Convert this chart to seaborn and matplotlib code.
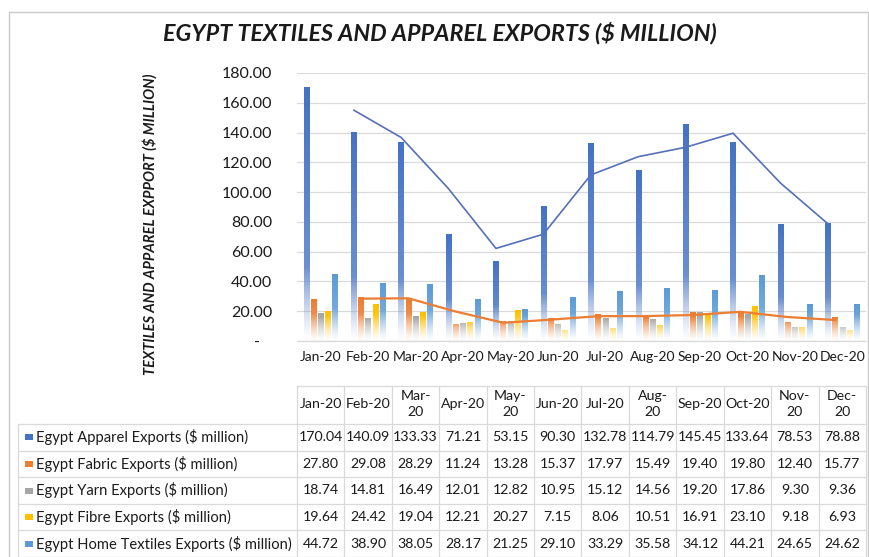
import numpy as np
import pandas as pd
import matplotlib
matplotlib.use("Agg")
import matplotlib.pyplot as plt
import seaborn as sns
from matplotlib.lines import Line2D
from matplotlib.patches import Rectangle
import matplotlib.transforms as mtransforms
from matplotlib.colors import to_rgb

# ---------------- data ----------------
months = ['Jan-20', 'Feb-20', 'Mar-20', 'Apr-20', 'May-20', 'Jun-20',
          'Jul-20', 'Aug-20', 'Sep-20', 'Oct-20', 'Nov-20', 'Dec-20']
header_labels = ['Jan-20', 'Feb-20', 'Mar-\n20', 'Apr-20', 'May-\n20', 'Jun-20',
                 'Jul-20', 'Aug-\n20', 'Sep-20', 'Oct-20', 'Nov-\n20', 'Dec-\n20']
series_names = ['Egypt Apparel Exports ($ million)',
                'Egypt Fabric Exports ($ million)',
                'Egypt Yarn Exports ($ million)',
                'Egypt Fibre Exports ($ million)',
                'Egypt Home Textiles Exports ($ million)']
apparel = [170.04, 140.09, 133.33, 71.21, 53.15, 90.30, 132.78, 114.79, 145.45, 133.64, 78.53, 78.88]
fabric = [27.80, 29.08, 28.29, 11.24, 13.28, 15.37, 17.97, 15.49, 19.40, 19.80, 12.40, 15.77]
yarn = [18.74, 14.81, 16.49, 12.01, 12.82, 10.95, 15.12, 14.56, 19.20, 17.86, 9.30, 9.36]
fibre = [19.64, 24.42, 19.04, 12.21, 20.27, 7.15, 8.06, 10.51, 16.91, 23.10, 9.18, 6.93]
home = [44.72, 38.90, 38.05, 28.17, 21.25, 29.10, 33.29, 35.58, 34.12, 44.21, 24.65, 24.62]
# trend lines (2-period moving average, drawn from Feb-20)
apparel_trend = [155.07, 136.71, 102.27, 62.18, 71.73, 111.54, 123.79, 130.12, 139.55, 106.09, 78.71]
fabric_trend = [28.44, 28.69, 19.77, 12.26, 14.33, 16.67, 16.73, 17.45, 19.60, 16.10, 14.09]
ytick_values = [0, 20, 40, 60, 80, 100, 120, 140, 160, 180]
ytick_labels = ['-   ', '20.00', '40.00', '60.00', '80.00', '100.00',
                '120.00', '140.00', '160.00', '180.00']
title = 'EGYPT TEXTILES AND APPAREL EXPORTS ($ MILLION)'
ylabel = 'TEXTILES AND APPAREL EXPPORT ($ MILLION)'
colors = ['#4472C4', '#ED7D31', '#A5A5A5', '#FFC000', '#5B9BD5']

all_series = [apparel, fabric, yarn, fibre, home]

# ---------------- style ----------------
sns.set_theme(style='white')
plt.rcParams['font.family'] = ['Lato', 'DejaVu Sans']
TXT = '#1a1a1a'
GRID = '#D9D9D9'

W, H = 870, 557
def fx(px):
    return px / W
def fy(py):
    return 1 - py / H

fig = plt.figure(figsize=(W / 100, H / 100), dpi=100)
ax = fig.add_axes([fx(297), fy(341), (866 - 297) / W, (341 - 73) / H])

rows = []
for name, vals in zip(series_names, all_series):
    for m, v in zip(months, vals):
        rows.append({'month': m, 'series': name, 'value': v})
df = pd.DataFrame(rows)

sns.barplot(data=df, x='month', y='value', hue='series', order=months,
            hue_order=series_names, palette=colors, width=0.76, gap=0.25,
            saturation=1, errorbar=None, legend=False, ax=ax)

# gradient fill for bars
centers = {k: [] for k in range(5)}
for p in list(ax.patches):
    x, w, h = p.get_x(), p.get_width(), p.get_height()
    c = np.array(p.get_facecolor()[:3])
    k = int(np.argmin([np.sum((c - np.array(to_rgb(cc))) ** 2) for cc in colors]))
    centers[k].append(x + w / 2)
    n = 200
    f = np.linspace(0, 1, n)
    d = h * (1 - f)
    fade = 0.22 * h + 12
    alpha = np.clip(d / fade, 0, 1) ** 1.2
    light = 0.30 * f
    rgb = c[None, :] * (1 - light[:, None]) + light[:, None]
    img = np.concatenate([rgb, alpha[:, None]], axis=1).reshape(n, 1, 4)
    ax.imshow(img, extent=[x, x + w, 0, h], aspect='auto', origin='upper',
              zorder=2, interpolation='bilinear')
    p.set_visible(False)

for k in centers:
    centers[k] = sorted(centers[k])

ax.plot(centers[0][1:], apparel_trend, color='#5470B8', lw=1.2, zorder=4)
ax.plot(centers[1][1:], fabric_trend, color='#ED7D31', lw=1.6, zorder=4)

ax.set_xlim(-0.5, 11.5)
ax.set_ylim(0, 180)
ax.set_yticks(ytick_values)
ax.set_yticklabels(ytick_labels)
ax.yaxis.grid(True, color=GRID, lw=0.9)
ax.set_axisbelow(True)
for s in ['left', 'right', 'top']:
    ax.spines[s].set_visible(False)
ax.spines['bottom'].set_color(GRID)
ax.spines['bottom'].set_linewidth(0.9)
ax.tick_params(axis='y', length=0, pad=18, labelsize=11.5, labelcolor=TXT)
ax.tick_params(axis='x', length=0, pad=7, labelsize=10, labelcolor=TXT)
ax.set_xlabel('')
ax.set_ylabel('')

# titles
fig.text(fx(440), fy(33), title, ha='center', va='center', fontsize=16.8,
         fontweight='bold', fontstyle='italic', color='#1a1a1a')
fig.text(fx(150), fy(224), ylabel, ha='center', va='center', rotation=90,
         fontsize=10.5, fontweight='bold', fontstyle='italic', color='#1a1a1a')

# ---------------- data table ----------------
trans = mtransforms.blended_transform_factory(ax.transData, fig.transFigure)
cw = (866 - 297) / 12
row_lines = [424, 450.6, 477.2, 503.8, 530.4, 557]
row_centers = [(row_lines[i] + row_lines[i + 1]) / 2 for i in range(5)]

def fline(x0, y0, x1, y1):
    fig.add_artist(Line2D([fx(x0), fx(x1)], [fy(y0), fy(y1)],
                          transform=fig.transFigure, color=GRID, lw=0.9))

fline(297, 386, 866, 386)
for yl in row_lines:
    fline(18, yl, 866, yl)
fline(18, 424, 18, 557)
for k in range(13):
    xb = 297 + k * cw
    fline(xb, 386, xb, 557)

for i, lab in enumerate(header_labels):
    ax.text(i, fy(404), lab, transform=trans, ha='center', va='center',
            fontsize=10.2, color=TXT, linespacing=1.45, clip_on=False)

for r, (name, vals) in enumerate(zip(series_names, all_series)):
    yc = row_centers[r]
    fig.add_artist(Rectangle((fx(25), fy(yc + 3)), 8 / W, 6 / H,
                             transform=fig.transFigure, facecolor=colors[r],
                             edgecolor='none'))
    fig.text(fx(36), fy(yc), name, ha='left', va='center', fontsize=10.6, color=TXT)
    for i, v in enumerate(vals):
        ax.text(i, fy(yc), f'{v:.2f}', transform=trans, ha='center', va='center',
                fontsize=10.2, color=TXT, clip_on=False)

# chart border
for (x0, y0, x1, y1) in [(9, 12, 868, 12), (9, 12, 9, 557), (868, 12, 868, 557)]:
    fig.add_artist(Line2D([fx(x0), fx(x1)], [fy(y0), fy(y1)],
                          transform=fig.transFigure, color='#C8C8C8', lw=1.0))

fig.savefig('out.png', dpi=100)
